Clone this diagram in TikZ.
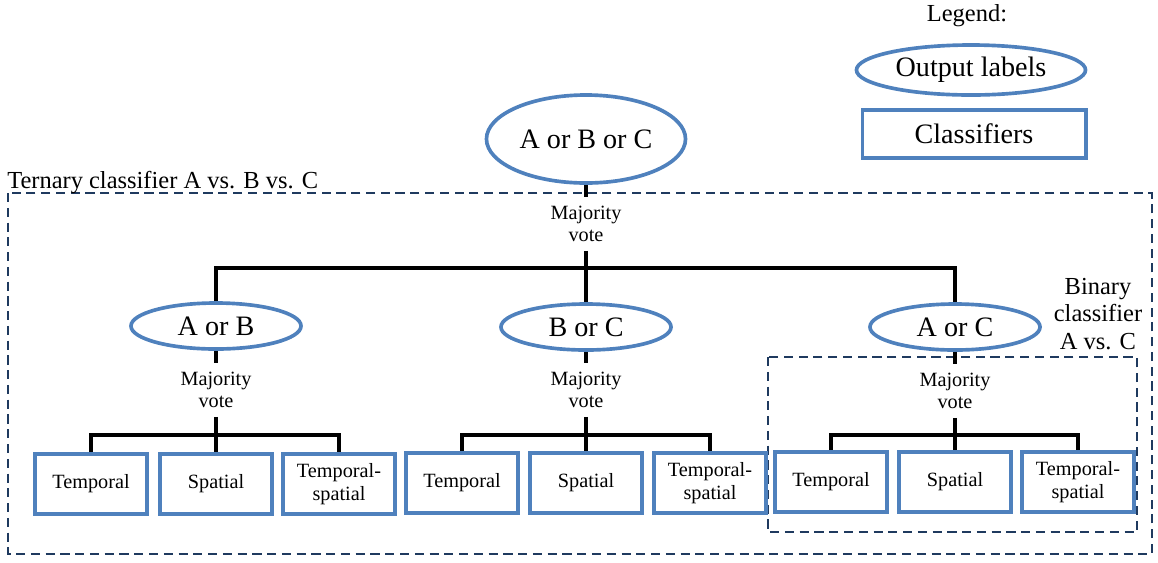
\documentclass[tikz,border=0pt]{standalone}
\usepackage{fontspec}
\setmainfont{Liberation Serif}
\usetikzlibrary{shapes.geometric}
\definecolor{lblue}{HTML}{4F81BD}
\definecolor{dnavy}{HTML}{1F3A5F}
\newcommand{\bigsz}{\fontsize{20}{24}\selectfont}
\newcommand{\midsz}{\fontsize{17.4}{19.6}\selectfont}
\newcommand{\smlsz}{\fontsize{14.4}{16.1}\selectfont}
\tikzset{
  outlabel/.style={ellipse,draw=lblue,line width=2.6pt,fill=white,inner sep=0pt,
    minimum width=4.25cm,minimum height=1.15cm,font=\bigsz},
  classbox/.style={rectangle,draw=lblue,line width=2.8pt,fill=white,inner sep=0pt,
    minimum width=2.8cm,minimum height=1.5cm,align=center,font=\smlsz},
  vote/.style={align=center,inner sep=6pt,font=\smlsz},
  tree/.style={line width=2.8pt},
  groupbox/.style={draw=dnavy,line width=1.3pt,dash pattern=on 6.5pt off 4pt}
}

\begin{document}
\begin{tikzpicture}[x=0.025cm,y=-0.025cm]
\useasboundingbox (0,0) rectangle (1158,562);
\draw[groupbox] (8,193) rectangle (1152,554); %ternary box
\draw[groupbox] (768,357) rectangle (1137,532); %binary box
\node[anchor=base west,inner sep=0pt,font=\midsz] (tern) at (7,188) {Ternary classifier A vs. B vs. C};
\node[align=center,inner sep=0pt,font=\midsz] (bin) at (1098,314) {Binary\\classifier\\A vs. C};
\node[inner sep=0pt,font=\midsz] (leg) at (967,16) {Legend:}; %legend
\node[outlabel,minimum width=5.725cm,minimum height=1.25cm] (legell) at (971,70) {Output labels};
\node[classbox,font=\bigsz,minimum width=5.575cm,minimum height=1.2cm] (legbox) at (974,134) {Classifiers};
\node[outlabel,minimum width=4.975cm,minimum height=2.2cm] (abc) at (586,139) {A or B or C}; %output labels
\node[outlabel] (ab) at (216,326) {A or B};
\node[outlabel] (bc) at (586,327) {B or C};
\node[outlabel] (ac) at (955,327) {A or C};
\node[vote] (vabc) at (586,224) {Majority\\vote}; %votes
\node[vote] (vab) at (216,390) {Majority\\vote};
\node[vote] (vbc) at (586,390) {Majority\\vote};
\node[vote] (vac) at (955,391) {Majority\\vote};
\node[classbox] (tab) at (91,484) {Temporal}; %classifiers A or B
\node[classbox] (sab) at (216,484) {Spatial};
\node[classbox] (tsab) at (339,484) {Temporal-\\spatial};
\node[classbox] (tbc) at (462,483) {Temporal}; %classifiers B or C
\node[classbox] (sbc) at (586,483) {Spatial};
\node[classbox] (tsbc) at (710,483) {Temporal-\\spatial};
\node[classbox] (tac) at (831,482) {Temporal}; %classifiers A or C
\node[classbox] (sac) at (955,482) {Spatial};
\node[classbox] (tsac) at (1078,482) {Temporal-\\spatial};
\coordinate (jabc) at (586,268); %bar heights
\coordinate (jab) at (216,435);
\coordinate (jbc) at (586,435);
\coordinate (jac) at (955,435);
\draw[tree] (abc) -- (vabc); %top tree
\draw[tree] (vabc) -- (bc);
\draw[tree] (ab) -- (ab |- jabc) -- (ac |- jabc) -- (ac);
\draw[tree] (ab) -- (vab); %A or B tree
\draw[tree] (vab) -- (sab);
\draw[tree] (tab) -- (tab |- jab) -- (tsab |- jab) -- (tsab);
\draw[tree] (bc) -- (vbc); %B or C tree
\draw[tree] (vbc) -- (sbc);
\draw[tree] (tbc) -- (tbc |- jbc) -- (tsbc |- jbc) -- (tsbc);
\draw[tree] (ac) -- (vac); %A or C tree
\draw[tree] (vac) -- (sac);
\draw[tree] (tac) -- (tac |- jac) -- (tsac |- jac) -- (tsac);
\end{tikzpicture}
\end{document}
